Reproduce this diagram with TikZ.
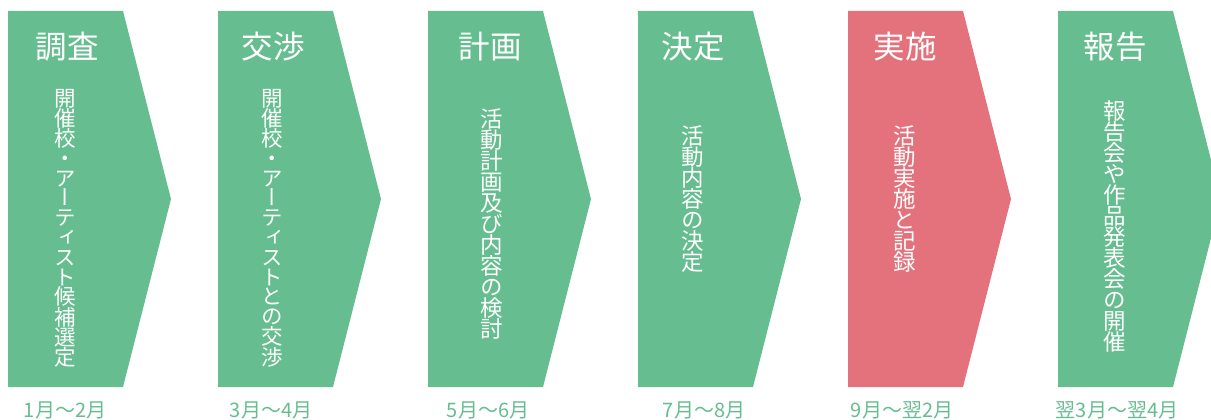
\documentclass[tikz,border=0pt]{standalone}
\usepackage{fontspec}
\setmainfont{Noto Sans CJK JP}
\newfontfamily\vjp[RawFeature=+vert]{Noto Sans CJK JP}
\definecolor{chgreen}{HTML}{66BD8F}
\definecolor{chpink}{HTML}{E4727D}
\tikzset{
  chev/.style={fill=#1, draw=none},
  ttl/.style={text=white, inner sep=0pt, anchor=center, font=\fontsize{31.5}{31.5}\selectfont},
  vtxt/.style 2 args={text=white, inner sep=0pt, anchor=center, align=center, font=\vjp\fontsize{#1}{#2}\selectfont},
  dt/.style={text=chgreen, inner sep=0pt, anchor=base, font=\fontsize{20}{20}\selectfont}
}
\begin{document}
\begin{tikzpicture}[x=1pt,y=-1pt]
\useasboundingbox (0,0) rectangle (1211,420);
\clip (0,0) rectangle (1211,420);
% chevrons (y axis points down)
\foreach \lx/\col in {8/chgreen,218/chgreen,428/chgreen,638/chgreen,848/chpink,1058/chgreen}{
  \path[chev=\col] (\lx,11) -- (\lx+115,11) -- (\lx+163,199) -- (\lx+115,387) -- (\lx,387) -- cycle;
}
% titles
\node[ttl] (t1) at (67,47) {調査};
\node[ttl] (t2) at (273,47) {交渉};
\node[ttl] (t3) at (490,47) {計画};
\node[ttl] (t4) at (693,47) {決定};
\node[ttl] (t5) at (905,47) {実施};
\node[ttl] (t6) at (1115,47) {報告};
% vertical texts
\node[vtxt={21.5}{19.8}] (v1) at (65,228.5) {開\\催\\校\\・\\ア\\ー\\テ\\ィ\\ス\\ト\\候\\補\\選\\定};
\node[vtxt={21.5}{19.8}] (v2) at (272,228.5) {開\\催\\校\\・\\ア\\ー\\テ\\ィ\\ス\\ト\\と\\の\\交\\渉};
\node[vtxt={22.5}{21}] (v3) at (492,224) {活\\動\\計\\画\\及\\び\\内\\容\\の\\検\\討};
\node[vtxt={22.5}{21}] (v4) at (693,199) {活\\動\\内\\容\\の\\決\\定};
\node[vtxt={22.5}{21}] (v5) at (905,199) {活\\動\\実\\施\\と\\記\\録};
\node[vtxt={22.5}{21}] (v6) at (1115,226.5) {報\\告\\会\\や\\作\\品\\発\\表\\会\\の\\開\\催};
% dates
\node[dt] (d1) at (65,417) {1月〜2月};
\node[dt] (d2) at (271,417) {3月〜4月};
\node[dt] (d3) at (488,417) {5月〜6月};
\node[dt] (d4) at (704,417) {7月〜8月};
\node[dt] (d5) at (902,417) {9月〜翌2月};
\node[dt] (d6) at (1117,417) {翌3月〜翌4月};
\end{tikzpicture}
\end{document}
